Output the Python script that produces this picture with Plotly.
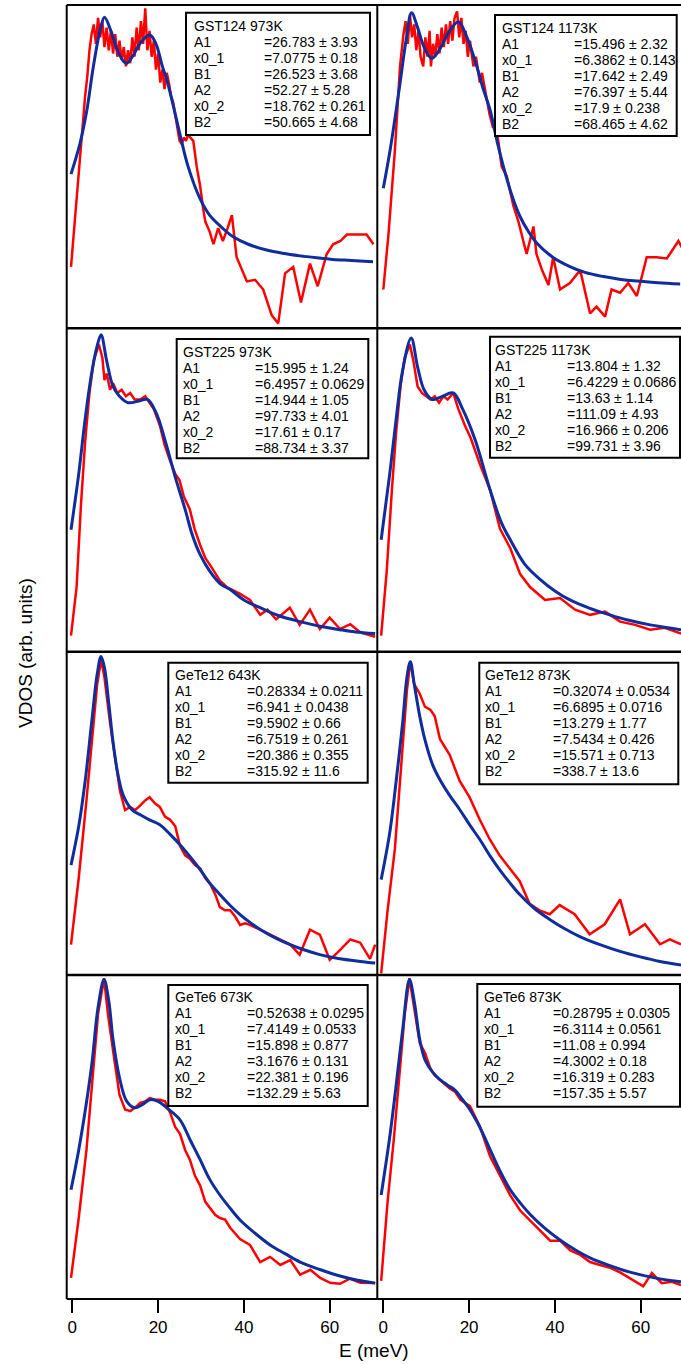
import plotly.graph_objects as go

W, H = 681, 1364

# ---------------- measured spectra (red) and two-peak fits (blue) ----------------
# GST124, 973 K
E_GST124_973 = [-0.3, 1.0, 2.0, 3.0, 3.5, 4.0, 4.5, 5.0, 5.5, 6.0, 6.5, 7.0, 7.5, 8.0, 8.5, 9.0, 9.5,
                10.0, 10.5, 11.0, 11.5, 12.0, 12.5, 13.0, 13.5, 14.0, 14.5, 15.0, 15.5, 16.0, 16.5,
                17.0, 17.5, 18.0, 18.5, 19.0, 19.5, 20.0, 20.5, 21.0, 21.5, 22.0, 22.5, 23.0, 23.5,
                24.0, 24.5, 25.0, 25.5, 26.0, 26.5, 27.0, 27.5, 28.2, 29.0, 29.8, 30.5, 31.0, 32.0,
                32.9, 34.0, 35.1, 36.2, 37.2, 38.3, 39.5, 40.7, 42.6, 44.5, 46.5, 48.0, 49.6, 51.5,
                53.3, 55.4, 57.2, 59.3, 60.8, 62.5, 64.0, 66.0, 68.6, 70.2]
VDOS_GST124_973 = [19, 40, 58, 72, 78, 86, 91, 94, 88, 96, 90, 95, 87, 93, 86, 92, 85,
                   91, 84, 89, 83, 87, 81, 86, 82, 90, 84, 93, 86, 95, 88,
                   99, 86, 92, 84, 89, 80, 85, 76, 80, 74, 79, 76, 72, 70,
                   66, 62, 58, 57, 59, 58, 60, 59, 58, 50, 44, 37, 33, 30,
                   26, 31, 27, 31, 35, 22, 18, 14.5, 15, 12, 4, 1.5, 17, 19,
                   8, 20, 13, 23, 26, 27, 29, 29, 29, 26]
EFIT_GST124_973 = [-0.3, 1.8, 3.4, 4.9, 6.5, 7.5, 9.0, 10.5, 12.0, 12.7, 14.0, 16.0, 18.1, 19.5,
                   21.0, 22.0, 23.5, 25.1, 27.0, 29.8, 32.0, 35.0, 37.5, 41.0, 45.3, 49.0, 53.1,
                   57.0, 60.8, 65.0, 70.1]
FIT_GST124_973 = [47.7, 57.2, 67.5, 80.9, 92.3, 96.2, 92, 86, 82.5, 82, 84, 88.5, 90.7, 88,
                  81, 77, 69, 60, 50, 40, 35, 31, 28.3, 26, 24.2, 23.2, 22.4,
                  21.8, 21.3, 21, 20.6]

# GST124, 1173 K
E_GST124_1173 = [0.0, 1.2, 2.7, 3.9, 4.7, 5.2, 5.7, 6.2, 6.7, 7.2, 7.7, 8.2, 8.7, 9.3, 9.8, 10.3,
                 10.8, 11.1, 11.6, 12.1, 12.6, 13.1, 13.6, 14.1, 14.6, 15.1, 15.6, 16.1, 16.6, 17.2,
                 17.7, 18.2, 18.7, 19.2, 19.7, 20.2, 21.0, 21.6, 22.5, 23.0, 24.1, 24.8, 25.6, 26.2,
                 26.8, 27.6, 28.8, 30.3, 31.5, 32.5, 33.4, 35.0, 35.7, 37.0, 38.5, 39.6, 41.2, 43.5,
                 45.9, 48.2, 49.7, 51.7, 53.2, 55.2, 57.1, 59.1, 61.4, 63.7, 66.1, 68.8, 70.0]
VDOS_GST124_1173 = [12, 29, 55, 81, 91, 95, 88, 97, 90, 94, 86, 92, 84, 81, 90, 84,
                    92, 81, 88, 84, 91, 85, 93, 87, 94, 88, 95, 89, 96, 98,
                    90, 96, 88, 92, 84, 89, 81, 84, 76, 79, 71, 66, 62, 64,
                    58, 50, 47, 38, 33, 28, 23, 31.5, 23, 18, 13.4, 22, 12, 14,
                    18, 4.6, 6.7, 3.6, 12, 11, 14, 10, 22, 22, 21.6, 27, 24]
EFIT_GST124_1173 = [0.0, 1.6, 3.9, 5.3, 6.6, 8.0, 9.5, 11.3, 13.0, 15.0, 17.5, 19.5, 21.8, 23.3,
                    24.9, 26.5, 28.0, 30.0, 31.9, 33.8, 35.8, 39.5, 43.5, 47.0, 51.3, 55.0, 59.1,
                    64.0, 69.2]
FIT_GST124_1173 = [43.3, 55.2, 75.8, 89, 97.6, 93, 87, 83.5, 86, 91, 94.8, 90, 81, 74,
                   67.5, 58, 50, 41, 34.5, 30, 26.3, 22, 19.1, 17.3, 16, 15.2, 14.6,
                   14.1, 13.7]

# GST225, 973 K
E_GST225_973 = [-0.3, 1.0, 2.0, 3.0, 4.0, 5.0, 6.2, 7.0, 7.5, 8.0, 8.8, 9.5, 10.5, 11.5, 12.5,
                13.5, 14.5, 15.8, 17.0, 18.0, 19.0, 20.4, 21.5, 22.8, 24.0, 25.0, 26.0, 27.4,
                28.5, 29.8, 31.0, 32.5, 34.4, 36.0, 37.5, 39.0, 41.4, 43.8, 45.5, 47.5, 50.7,
                53.0, 55.4, 57.7, 60.0, 62.4, 64.8, 67.1, 70.6]
VDOS_GST225_973 = [5, 20, 45, 65, 80, 90, 95, 91, 84, 86, 81, 83, 80, 81, 79,
                   80, 78, 78, 79, 77, 75, 70, 64, 59, 55, 53, 48, 44,
                   38, 33, 29, 26, 22, 20, 19, 18, 16, 11.4, 13, 10, 13.6,
                   8.3, 13, 7, 10.5, 7, 8.5, 6, 4.6]
EFIT_GST225_973 = [-0.3, 1.5, 3.0, 4.5, 5.7, 6.7, 8.0, 9.5, 11.0, 13.0, 15.5, 17.5, 19.5, 21.6,
                   24.0, 26.3, 28.0, 29.8, 32.0, 34.5, 36.8, 40.0, 43.8, 48.0, 53.1, 58.0, 62.4,
                   66.0, 70.6]
FIT_GST225_973 = [37.7, 55, 72, 86, 94, 98, 90, 82, 79, 77, 77.5, 78, 74, 65.5,
                  54, 44, 36, 30, 25, 21, 19.2, 16, 13.6, 11.2, 9.3, 7.8, 6.8,
                  6.1, 5.6]

# GST225, 1173 K
E_GST225_1173 = [-0.5, 0.8, 2.0, 3.0, 4.0, 5.0, 6.2, 7.0, 8.0, 9.0, 10.0, 11.0, 12.0, 13.0,
                 14.0, 15.0, 16.3, 17.5, 19.0, 20.4, 22.5, 24.9, 27.2, 29.6, 31.9, 34.2, 37.7,
                 41.2, 44.7, 48.2, 51.7, 55.2, 58.7, 62.2, 65.6, 69.4]
VDOS_GST225_1173 = [5, 25, 50, 68, 82, 91, 95, 90, 82, 80, 79, 78, 79, 77,
                    79, 78, 80, 75, 70, 66, 58, 50, 38, 32, 24, 20, 16,
                    16.6, 13, 11.4, 12.4, 9.3, 8.3, 6.8, 7.4, 5.6]
EFIT_GST225_1173 = [-0.5, 1.5, 3.0, 4.5, 6.5, 8.0, 9.5, 11.4, 13.5, 16.3, 18.5, 21.4, 24.9,
                    27.5, 29.6, 33.0, 36.6, 40.0, 43.5, 48.0, 52.8, 57.0, 62.2, 66.0, 69.4]
FIT_GST225_1173 = [34.6, 55, 72, 87, 97, 88, 81, 78, 78.8, 80, 75, 65.5, 50,
                   40, 34.6, 27, 22.3, 18.8, 16, 13.5, 11.4, 9.8, 8.3, 7.5, 6.8]

# GeTe12, 643 K
E_GETE12_643 = [-0.3, 1.5, 3.3, 4.5, 5.8, 6.7, 7.5, 8.8, 10.0, 11.1, 12.3, 13.5, 14.6, 15.5,
                17.0, 18.0, 19.3, 20.4, 21.6, 22.8, 24.0, 25.1, 26.3, 27.4, 28.6, 29.8, 31.0,
                32.2, 33.3, 34.4, 35.6, 36.8, 38.0, 39.1, 40.3, 41.4, 43.8, 46.1, 48.5, 50.8,
                53.0, 55.4, 57.7, 60.0, 62.4, 64.8, 67.1, 69.4, 70.6]
VDOS_GETE12_643 = [9.4, 30, 54, 72, 90, 97.5, 92, 78, 67, 57, 51, 52, 51, 52,
                   54, 55, 53, 52, 49, 48, 46, 40, 37, 36, 34, 33, 30,
                   28, 25, 21, 20, 20, 18, 15.5, 16, 15.5, 14, 12.5, 11, 9.4,
                   6.3, 14, 12.5, 4.7, 7.7, 11, 10, 5, 9.4]
EFIT_GETE12_643 = [-0.3, 1.5, 3.0, 4.5, 5.8, 6.7, 7.5, 8.5, 9.5, 10.5, 11.5, 12.3, 14.0, 15.8,
                   18.0, 20.4, 22.8, 25.1, 27.5, 29.8, 32.0, 34.4, 36.8, 39.1, 41.5, 43.8, 47.3,
                   50.8, 54.0, 57.7, 62.0, 67.1, 70.6]
FIT_GETE12_643 = [34, 46, 60, 78, 93, 98.5, 95, 84, 72, 63, 57, 54.3, 51, 49.6,
                  48, 46.5, 43.5, 40.3, 36.5, 32.6, 28.5, 24.9, 21.5, 18.7, 16.2, 14.1, 11.5,
                  9.4, 7.8, 6.3, 5.1, 4.2, 3.7]

# GeTe12, 873 K
E_GETE12_873 = [-0.5, 1.0, 2.7, 4.5, 5.5, 6.3, 7.2, 8.5, 9.7, 11.0, 12.0, 13.2, 14.5, 15.5,
                17.8, 20.1, 22.5, 24.8, 27.1, 29.4, 31.8, 34.1, 36.4, 38.8, 41.1, 44.6, 48.1,
                51.6, 55.2, 57.5, 61.0, 64.5, 66.8, 69.4]
VDOS_GETE12_873 = [0.5, 20, 39, 70, 88, 97, 90, 87, 83, 82, 80, 73, 70, 68,
                   60, 55, 48, 42, 37, 33, 29, 22, 20, 18.8, 21.6, 18.8, 12.6,
                   15.7, 23.4, 12.6, 15.7, 9.5, 11, 9.5]
EFIT_GETE12_873 = [-0.5, 1.5, 3.0, 4.5, 5.5, 6.3, 7.2, 8.5, 9.7, 11.5, 13.2, 15.5, 17.8, 20.1,
                   22.5, 24.8, 27.1, 29.5, 31.8, 35.3, 38.8, 42.3, 45.8, 50.5, 55.2, 59.9, 64.5,
                   69.4]
FIT_GETE12_873 = [29.5, 44, 60, 78, 92, 96.9, 90, 80, 72.8, 65, 60.4, 55.5, 51.2, 46.5,
                  41.9, 37, 32.6, 28.5, 24.9, 20.5, 17.2, 14.3, 11.9, 9.4, 7.3, 5.6, 4.2,
                  3.1]

# GeTe6, 673 K
E_GETE6_673 = [-0.3, 1.5, 3.3, 4.6, 6.0, 7.4, 8.3, 9.9, 11.0, 12.3, 13.5, 14.6, 15.8, 17.0,
               18.1, 19.3, 20.4, 21.6, 22.8, 24.0, 25.1, 26.3, 27.4, 28.6, 29.8, 31.0, 32.1,
               33.3, 34.4, 35.6, 36.8, 38.0, 39.1, 41.4, 43.8, 46.1, 48.5, 50.8, 53.1, 55.5,
               57.8, 60.1, 62.4, 64.7, 67.1, 70.6]
VDOS_GETE6_673 = [6.5, 25, 46, 65, 88, 99, 88, 73, 63, 58.5, 58, 59, 60.5, 61,
                  62, 61.5, 61.5, 61, 57.5, 53, 51, 46, 43, 38, 35, 30, 28,
                  26, 25, 24.5, 22, 20, 18.5, 16.7, 11.4, 13, 10.5, 12, 7.5, 9,
                  6.5, 5, 4.7, 6.3, 5, 4.9]
EFIT_GETE6_673 = [-0.3, 1.5, 3.0, 4.6, 6.0, 7.4, 8.5, 9.5, 11.1, 12.7, 14.6, 16.3, 18.1, 20.0,
                  22.0, 25.1, 27.5, 29.8, 32.0, 34.4, 36.8, 39.1, 42.6, 46.1, 49.6, 53.1, 57.7,
                  62.4, 66.5, 70.6]
FIT_GETE6_673 = [33.7, 46, 58, 73, 90, 98.6, 92, 80, 67.7, 61, 59, 60, 61.5, 61,
                 59, 55.3, 49, 43, 37, 32.1, 28, 24.4, 20.3, 16.7, 14, 11.4, 9.1,
                 7.1, 5.8, 4.9]

# GeTe6, 873 K
E_GETE6_873 = [-0.5, 1.0, 2.5, 4.0, 5.0, 6.1, 7.2, 8.5, 9.7, 11.0, 12.0, 13.2, 14.5, 15.5,
               16.7, 18.0, 20.2, 22.5, 24.9, 27.2, 29.6, 31.9, 34.3, 36.6, 38.9, 41.2, 43.6,
               45.9, 48.2, 50.5, 52.9, 55.2, 57.6, 60.6, 62.6, 64.9, 67.2, 69.4]
VDOS_GETE6_873 = [5.6, 30, 50, 72, 88, 99, 90, 79, 76, 71, 69, 67.7, 66, 65,
                  64, 61.5, 59.5, 53.3, 44, 38, 32, 27.3, 24.2, 21, 18, 18, 15,
                  13.6, 11.4, 10.5, 9.6, 8.2, 6.3, 3.9, 8, 4.9, 5.3, 4.3]
EFIT_GETE6_873 = [-0.5, 1.5, 3.0, 4.5, 6.1, 7.2, 8.5, 9.7, 11.5, 13.2, 15.0, 16.7, 18.5, 20.2,
                  22.5, 24.9, 27.2, 29.6, 32.0, 34.3, 37.7, 41.2, 44.7, 48.2, 52.8, 57.5, 63.0,
                  69.4]
FIT_GETE6_873 = [32.1, 50, 66, 83, 98.6, 92, 80, 73.9, 70, 67.7, 66, 64.5, 61.5, 58.4,
                 53, 46.1, 39.5, 33.7, 29.5, 26, 21.8, 18.2, 15.2, 12.7, 10.3, 8.3, 6.6,
                 5.3]

# ---------------- fit results ----------------
PARAM_NAMES = ["A1", "x0_1", "B1", "A2", "x0_2", "B2"]
TITLES = ["GST124 973K", "GST124 1173K", "GST225 973K", "GST225 1173K",
          "GeTe12 643K", "GeTe12 873K", "GeTe6 673K", "GeTe6 873K"]
PARAMS_GST124_973 = ["=26.783 ± 3.93", "=7.0775 ± 0.18", "=26.523 ± 3.68",
                     "=52.27 ± 5.28", "=18.762 ± 0.261", "=50.665 ± 4.68"]
PARAMS_GST124_1173 = ["=15.496 ± 2.32", "=6.3862 ± 0.143", "=17.642 ± 2.49",
                      "=76.397 ± 5.44", "=17.9 ± 0.238", "=68.465 ± 4.62"]
PARAMS_GST225_973 = ["=15.995 ± 1.24", "=6.4957 ± 0.0629", "=14.944 ± 1.05",
                     "=97.733 ± 4.01", "=17.61 ± 0.17", "=88.734 ± 3.37"]
PARAMS_GST225_1173 = ["=13.804 ± 1.32", "=6.4229 ± 0.0686", "=13.63 ± 1.14",
                      "=111.09 ± 4.93", "=16.966 ± 0.206", "=99.731 ± 3.96"]
PARAMS_GETE12_643 = ["=0.28334 ± 0.0211", "=6.941 ± 0.0438", "=9.5902 ± 0.66",
                     "=6.7519 ± 0.261", "=20.386 ± 0.355", "=315.92 ± 11.6"]
PARAMS_GETE12_873 = ["=0.32074 ± 0.0534", "=6.6895 ± 0.0716", "=13.279 ± 1.77",
                     "=7.5434 ± 0.426", "=15.571 ± 0.713", "=338.7 ± 13.6"]
PARAMS_GETE6_673 = ["=0.52638 ± 0.0295", "=7.4149 ± 0.0533", "=15.898 ± 0.877",
                    "=3.1676 ± 0.131", "=22.381 ± 0.196", "=132.29 ± 5.63"]
PARAMS_GETE6_873 = ["=0.28795 ± 0.0305", "=6.3114 ± 0.0561", "=11.08 ± 0.994",
                    "=4.3002 ± 0.18", "=16.319 ± 0.283", "=157.35 ± 5.57"]

X_TICKS = [0, 20, 40, 60]
X_TICK_TEXT = ["0", "20", "40", "60"]

panels = [
    (E_GST124_973, VDOS_GST124_973, EFIT_GST124_973, FIT_GST124_973, PARAMS_GST124_973),
    (E_GST124_1173, VDOS_GST124_1173, EFIT_GST124_1173, FIT_GST124_1173, PARAMS_GST124_1173),
    (E_GST225_973, VDOS_GST225_973, EFIT_GST225_973, FIT_GST225_973, PARAMS_GST225_973),
    (E_GST225_1173, VDOS_GST225_1173, EFIT_GST225_1173, FIT_GST225_1173, PARAMS_GST225_1173),
    (E_GETE12_643, VDOS_GETE12_643, EFIT_GETE12_643, FIT_GETE12_643, PARAMS_GETE12_643),
    (E_GETE12_873, VDOS_GETE12_873, EFIT_GETE12_873, FIT_GETE12_873, PARAMS_GETE12_873),
    (E_GETE6_673, VDOS_GETE6_673, EFIT_GETE6_673, FIT_GETE6_673, PARAMS_GETE6_673),
    (E_GETE6_873, VDOS_GETE6_873, EFIT_GETE6_873, FIT_GETE6_873, PARAMS_GETE6_873),
]

# ---------------- page geometry (pixels) ----------------
FRAME_L, FRAME_MID, FRAME_R = 66.7, 377.3, 681.0
ROW_EDGES = [5.0, 328.3, 651.7, 975.0, 1299.0]
PX_PER_MEV = 4.29
ZERO_PX = [72.3, 383.3]          # pixel position of E = 0 in each column
COL_EDGES = [(FRAME_L, FRAME_MID), (FRAME_MID, FRAME_R)]

# parameter boxes: left, right, top, bottom, label x, value x, first line y
BOXES = [
    (186.0, 370.0, 12.7, 135.0, 192.7, 263.0, 25.7),
    (495.0, 676.7, 15.0, 136.0, 500.7, 572.7, 28.3),
    (176.7, 368.3, 339.0, 458.3, 181.7, 254.3, 351.7),
    (490.0, 680.0, 336.7, 457.7, 494.0, 566.0, 350.0),
    (168.3, 367.7, 662.7, 782.7, 174.0, 246.0, 675.0),
    (479.3, 678.3, 662.7, 784.3, 484.0, 551.7, 675.0),
    (168.3, 367.7, 985.0, 1106.0, 174.0, 246.0, 997.3),
    (477.3, 680.0, 984.0, 1106.7, 482.7, 551.7, 997.3),
]
LINE_STEP = 16.0


def px(x):
    return x / W


def py(y):
    return 1 - y / H


FONT = "Liberation Sans, Arial, sans-serif"
RED = "#ff0000"
BLUE = "#0f2d9c"

fig = go.Figure()
layout = {}
shapes = []
annotations = []

for k, (e_red, v_red, e_fit, v_fit, params) in enumerate(panels):
    r, c = divmod(k, 2)
    n = k + 1
    xa = "x" if n == 1 else f"x{n}"
    ya = "y" if n == 1 else f"y{n}"
    xkey = "xaxis" if n == 1 else f"xaxis{n}"
    ykey = "yaxis" if n == 1 else f"yaxis{n}"

    left, right = COL_EDGES[c]
    top, bottom = ROW_EDGES[r], ROW_EDGES[r + 1]
    x0 = (left - ZERO_PX[c]) / PX_PER_MEV
    x1 = (right - ZERO_PX[c]) / PX_PER_MEV

    bottom_row = r == 3
    layout[xkey] = dict(
        domain=[px(left), px(right)], range=[x0, x1], anchor=ya,
        showgrid=False, zeroline=False, showline=False,
        tickmode="array", tickvals=X_TICKS, ticktext=X_TICK_TEXT,
        ticks="outside" if bottom_row else "", ticklen=13, tickwidth=2,
        tickcolor="black", showticklabels=bottom_row,
        tickfont=dict(family=FONT, size=17, color="black"),
    )
    layout[ykey] = dict(
        domain=[py(bottom), py(top)], range=[0, 100], anchor=xa,
        visible=False, showgrid=False, zeroline=False,
    )

    fig.add_trace(go.Scatter(x=e_red, y=v_red, mode="lines", xaxis=xa, yaxis=ya,
                             line=dict(color=RED, width=2.5), showlegend=False,
                             hoverinfo="skip"))
    fig.add_trace(go.Scatter(x=e_fit, y=v_fit, mode="lines", xaxis=xa, yaxis=ya,
                             line=dict(color=BLUE, width=3, shape="spline", smoothing=1.0),
                             showlegend=False, hoverinfo="skip"))

    # parameter box
    bl, br, bt, bb, lx, vx, ly0 = BOXES[k]
    shapes.append(dict(type="rect", xref="paper", yref="paper",
                       x0=px(bl), x1=px(br), y0=py(bb), y1=py(bt),
                       line=dict(color="black", width=2), fillcolor="white", layer="above"))
    lines = [(TITLES[k], None)] + list(zip(PARAM_NAMES, params))
    for i, (label, value) in enumerate(lines):
        yy = py(ly0 + i * LINE_STEP)
        annotations.append(dict(text=label, x=px(lx - 1), y=yy, xref="paper", yref="paper",
                                xanchor="left", yanchor="middle", showarrow=False,
                                font=dict(family=FONT, size=14, color="black")))
        if value is not None:
            annotations.append(dict(text=value, x=px(vx - 1), y=yy, xref="paper", yref="paper",
                                    xanchor="left", yanchor="middle", showarrow=False,
                                    font=dict(family=FONT, size=14, color="black")))

# frame: outer border plus row and column dividers
for i, yv in enumerate(ROW_EDGES):
    w = 2 if i in (0, len(ROW_EDGES) - 1) else 2.5
    shapes.append(dict(type="line", xref="paper", yref="paper",
                       x0=px(FRAME_L), x1=px(FRAME_R), y0=py(yv), y1=py(yv),
                       line=dict(color="black", width=w), layer="above"))
for xv in (FRAME_L, FRAME_MID):
    shapes.append(dict(type="line", xref="paper", yref="paper",
                       x0=px(xv), x1=px(xv), y0=py(ROW_EDGES[0]), y1=py(ROW_EDGES[-1]),
                       line=dict(color="black", width=2), layer="above"))

# axis titles
annotations.append(dict(text="E (meV)", x=px(374), y=py(1350), xref="paper", yref="paper",
                        xanchor="center", yanchor="middle", showarrow=False,
                        font=dict(family=FONT, size=19, color="black")))
annotations.append(dict(text="VDOS (arb. units)", x=px(25), y=py(653), xref="paper",
                        yref="paper", xanchor="center", yanchor="middle", showarrow=False,
                        textangle=-90, font=dict(family=FONT, size=19, color="black")))

fig.update_layout(
    width=W, height=H,
    margin=dict(l=0, r=0, t=0, b=0),
    paper_bgcolor="white", plot_bgcolor="white",
    shapes=shapes, annotations=annotations,
    **layout,
)

fig.write_html("out.html")
